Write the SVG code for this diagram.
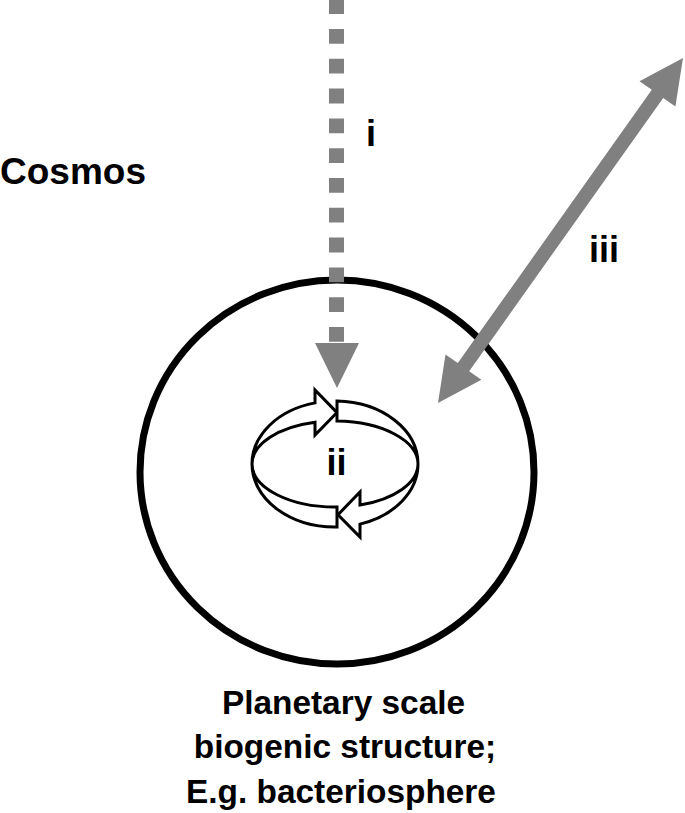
<svg xmlns="http://www.w3.org/2000/svg" width="685" height="813" viewBox="0 0 685 813">
<style>
.t{font-family:"Liberation Sans",Arial,sans-serif;font-weight:bold;fill:#000}
.band{fill:#fff;stroke:#000;stroke-width:3;stroke-linejoin:miter}
.gray{fill:#808080}
</style>
<rect width="685" height="813" fill="#fff"/>
<g id="planet">
<ellipse cx="337" cy="472" rx="197" ry="192" fill="none" stroke="#000" stroke-width="7"/>
</g>
<g id="cycle">
<path class="band" d="M252,464 A83,63 0 0 1 315,402.9 L315,390 L337,412.6 L315,435 L315,422.3 A83,43 0 0 0 252,464 Z"/>
<path class="band" d="M337,401 A83,63 0 0 1 418,464 A83,43 0 0 0 337,421 Z"/>
<path class="band" d="M418,464 A83,43 0 0 1 360,505 L360,492 L338,514.7 L360,537 L360,524.1 A83,63 0 0 0 418,464 Z"/>
<path class="band" d="M252,464 A83,43 0 0 0 337,507 L337,527 A83,63 0 0 1 252,464 Z"/>
</g>
<g id="connectors">
<line x1="336.5" y1="-0.8" x2="336.5" y2="342" stroke="#808080" stroke-width="15" stroke-dasharray="14.8 15"/>
<polygon class="gray" points="315,343 359,343 337,388"/>
<polygon class="gray" points="438,403 445.5,354.4 457.8,363.1 651.8,89.8 639.5,81.2 683,58 675.4,106.6 663.2,97.9 469.2,371.2 481.4,379.8"/>
</g>
<g id="labels">
<text class="t" x="0" y="184" font-size="37">Cosmos</text>
<text class="t" x="371" y="146" font-size="36" text-anchor="middle">i</text>
<text class="t" x="336.5" y="475" font-size="36" text-anchor="middle">ii</text>
<text class="t" x="604" y="262" font-size="36" text-anchor="middle">iii</text>
<text class="t" font-size="33.4" text-anchor="middle"><tspan x="343.5" y="714">Planetary scale</tspan><tspan x="345" y="758">biogenic structure;</tspan><tspan x="341" y="803">E.g. bacteriosphere</tspan></text>
</g>
</svg>
